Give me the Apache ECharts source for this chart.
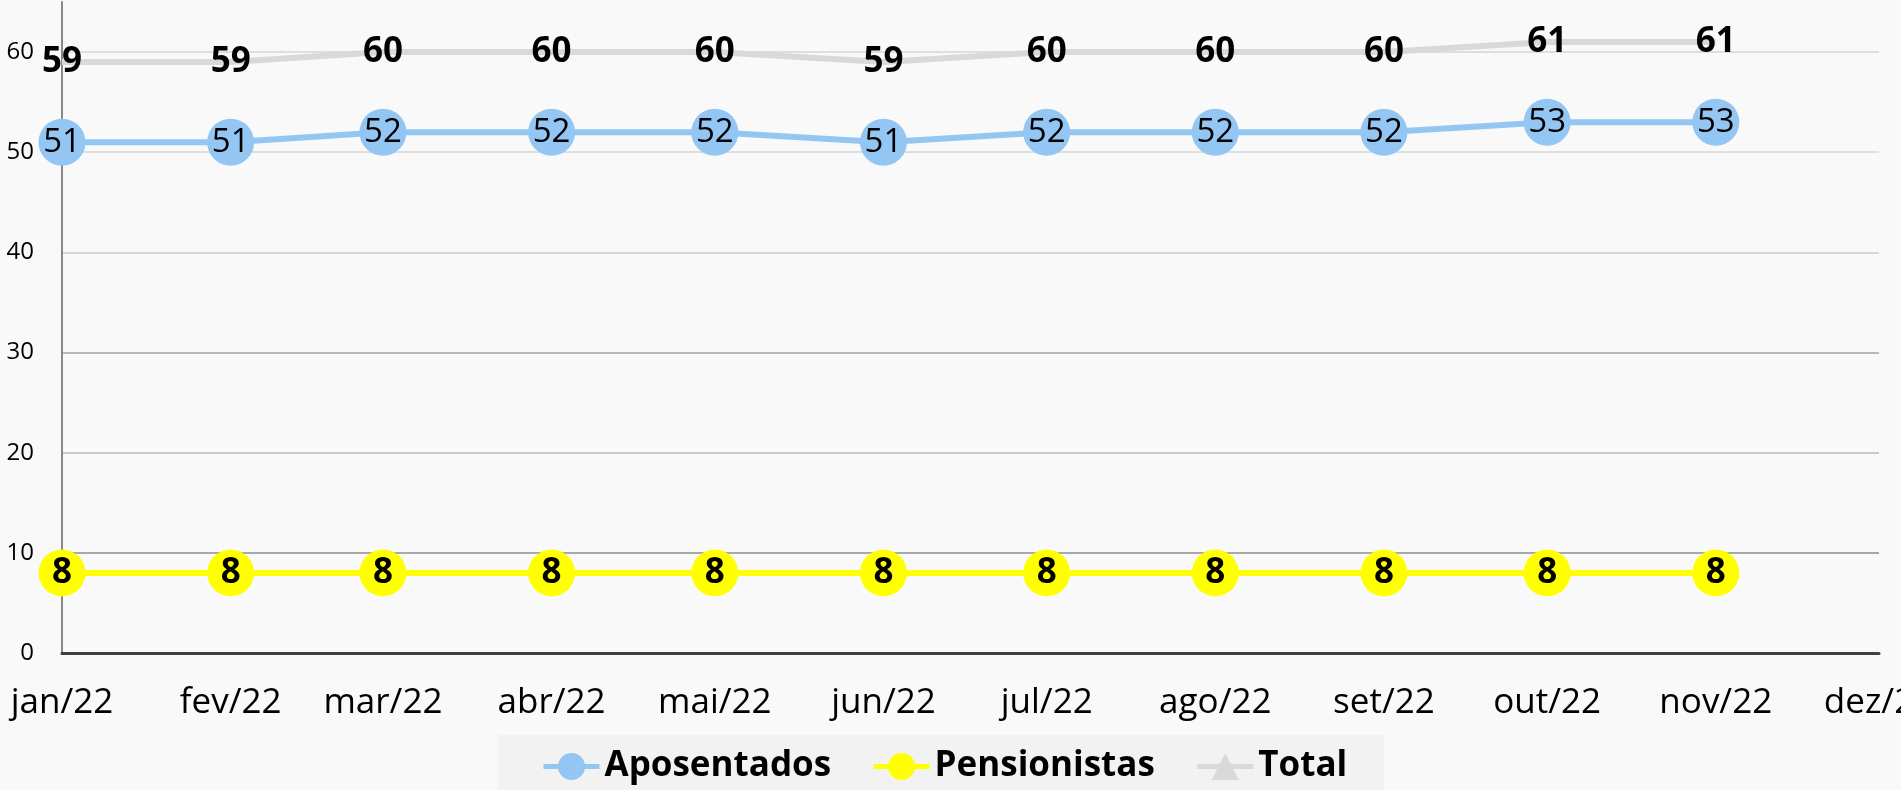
<!DOCTYPE html>
<html>
<head>
<meta charset="utf-8">
<script src="https://cdn.jsdelivr.net/npm/echarts@6/dist/echarts.min.js"></script>
<style>
  html, body { margin: 0; padding: 0; background: #f9f9f9; }
  #chart { width: 1901px; height: 790px; }
</style>
</head>
<body>
<div id="chart"></div>
<script>
// meses (primeiro dia de cada mês)
const months = ['2022-01-01', '2022-02-01', '2022-03-01', '2022-04-01', '2022-05-01', '2022-06-01',
  '2022-07-01', '2022-08-01', '2022-09-01', '2022-10-01', '2022-11-01']
const monthNames = ['jan', 'fev', 'mar', 'abr', 'mai', 'jun', 'jul', 'ago', 'set', 'out', 'nov', 'dez']

const aposentados = [51, 51, 52, 52, 52, 51, 52, 52, 52, 53, 53]
const pensionistas = [8, 8, 8, 8, 8, 8, 8, 8, 8, 8, 8]
const total = [59, 59, 60, 60, 60, 59, 60, 60, 60, 61, 61]

const pairs = (vals) => vals.map((v, i) => [months[i], v])
const DAY = 86400000
const font = "'Open Sans', sans-serif"

const myChart = echarts.init(document.getElementById('chart'))

const option = {
  backgroundColor: '#f9f9f9',
  animation: false,
  grid: { left: 62, right: 22, top: 2, bottom: 137, outerBoundsMode: 'none', containLabel: false },
  legend: {
    left: 498,
    top: 735,
    padding: [14, 37, 30, 43],
    backgroundColor: '#f2f2f2',
    itemWidth: 56,
    itemHeight: 34,
    itemGap: 40,
    lineStyle: { width: 5 },
    textStyle: { fontFamily: font, fontSize: 35, fontWeight: 'bold', color: '#000' },
    data: ['Aposentados', 'Pensionistas', 'Total']
  },
  xAxis: {
    type: 'time',
    min: '2022-01-01',
    max: '2022-12-01',
    splitNumber: 11,
    minInterval: 28 * DAY,
    maxInterval: 31 * DAY,
    axisLine: { lineStyle: { color: '#404040', width: 3 } },
    axisTick: { show: false },
    splitLine: { show: false },
    axisLabel: {
      fontFamily: font,
      fontSize: 35,
      color: '#000',
      margin: 33,
      hideOverlap: false,
      showMinLabel: true,
      showMaxLabel: true,
      formatter: (val) => {
        const d = new Date(val)
        return monthNames[d.getMonth()] + '/' + String(d.getFullYear()).slice(2)
      }
    }
  },
  yAxis: {
    type: 'value',
    min: 0,
    max: 65,
    interval: 10,
    axisLine: { show: true, lineStyle: { color: '#888', width: 2 } },
    axisTick: { show: false },
    axisLabel: { fontFamily: font, fontSize: 24, color: '#000', margin: 28, showMaxLabel: false },
    splitLine: {
      showMaxLine: false,
      lineStyle: {
        width: 2,
        color: ['#999', '#a8a8a8', '#cacaca', '#b8b8b8', '#d6d6d6', '#dedede', '#dedede', '#dedede']
      }
    }
  },
  series: [
    {
      name: 'Aposentados',
      type: 'line',
      data: pairs(aposentados),
      color: '#94c6f4',
      lineStyle: { width: 6 },
      symbol: 'circle',
      symbolSize: 47,
      label: { show: true, position: 'inside', fontFamily: font, fontSize: 33, color: '#000' },
      z: 3
    },
    {
      name: 'Pensionistas',
      type: 'line',
      data: pairs(pensionistas),
      color: '#ffff00',
      lineStyle: { width: 6 },
      symbol: 'circle',
      symbolSize: 47,
      label: { show: true, position: 'inside', fontFamily: font, fontSize: 35, fontWeight: 'bold', color: '#000' },
      z: 3
    },
    {
      name: 'Total',
      type: 'line',
      data: pairs(total),
      color: '#d9d9d9',
      lineStyle: { width: 6 },
      symbol: 'triangle',
      symbolSize: 1,
      label: { show: true, position: 'inside', fontFamily: font, fontSize: 35, fontWeight: 'bold', color: '#000' },
      z: 2
    }
  ]
}

myChart.setOption(option)
window.addEventListener('resize', () => {
  myChart.resize()
})
</script>
</body>
</html>
